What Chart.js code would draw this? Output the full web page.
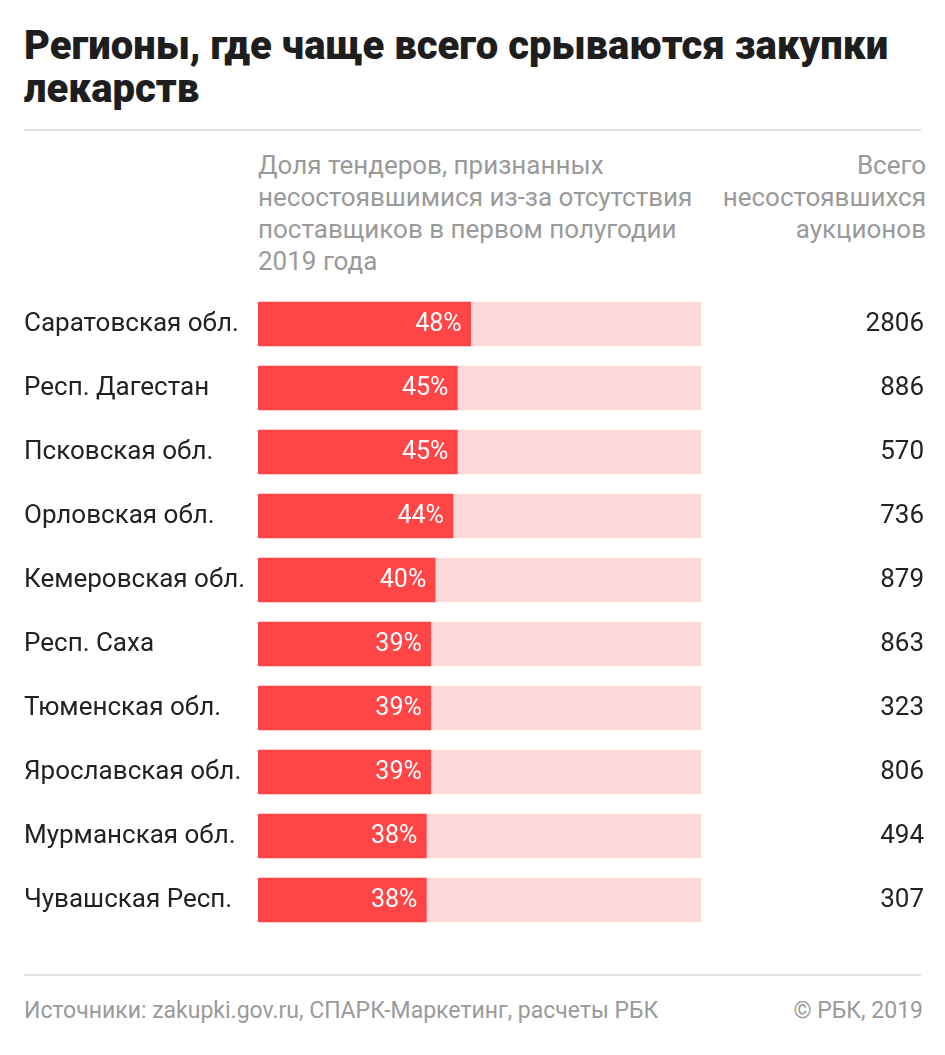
<!DOCTYPE html>
<html lang="ru">
<head>
<meta charset="utf-8">
<script src="https://cdn.jsdelivr.net/npm/chart.js@4/dist/chart.umd.min.js"></script>
<style>
  html, body { margin: 0; padding: 0; background: #fff; }
  body { width: 945px; height: 1055px; position: relative; font-family: Roboto, sans-serif; overflow: hidden; }
  .title { position: absolute; left: 24px; top: 24px; font-size: 40px; line-height: 43px; font-weight: 900; color: #1e1e1e; letter-spacing: 0; }
  .rule { position: absolute; left: 24px; width: 897px; height: 2px; background: #e2e2e2; }
  .head { position: absolute; top: 149px; font-size: 26px; line-height: 32px; color: #9a9a9a; }
  .foot { position: absolute; top: 997px; font-size: 23px; color: #9a9a9a; }
  .wrap { position: absolute; left: 0; top: 279px; width: 945px; height: 666px; }
</style>
</head>
<body>
<div class="title">Регионы, где чаще всего срываются закупки<br>лекарств</div>
<div class="rule" style="top:129px"></div>
<div class="head" style="left:258px">Доля тендеров, признанных<br>несостоявшимися из-за отсутствия<br>поставщиков в первом полугодии<br>2019 года</div>
<div class="head" style="right:19px;text-align:right">Всего<br>несостоявшихся<br>аукционов</div>
<div class="wrap"><canvas id="chart"></canvas></div>
<div class="rule" style="top:974px"></div>
<div class="foot" style="left:24px">Источники: zakupki.gov.ru, СПАРК-Маркетинг, расчеты РБК</div>
<div class="foot" style="right:22px">© РБК, 2019</div>
<script>
const regions = ["Саратовская обл.", "Респ. Дагестан", "Псковская обл.", "Орловская обл.", "Кемеровская обл.", "Респ. Саха", "Тюменская обл.", "Ярославская обл.", "Мурманская обл.", "Чувашская Респ."];
const shares = [48, 45, 45, 44, 40, 39, 39, 39, 38, 38];
const totals = ["2806", "886", "570", "736", "879", "863", "323", "806", "494", "307"];
const track = [100, 100, 100, 100, 100, 100, 100, 100, 100, 100];

const fontSans = "Roboto, sans-serif";
const red = '#ff4545', pink = '#fdd9d9', ink = '#222';

// white "48%" labels inside the red bars, right-aligned to the bar end
const pctLabels = {
  id: 'pctLabels',
  afterDatasetsDraw(chart) {
    const ctx = chart.ctx;
    const meta = chart.getDatasetMeta(1);
    ctx.save();
    ctx.font = '25px ' + fontSans;
    ctx.fillStyle = '#fff';
    ctx.textAlign = 'right';
    ctx.textBaseline = 'middle';
    meta.data.forEach((bar, i) => {
      ctx.fillText(shares[i] + '%', bar.x - 9, bar.y + 1);
    });
    ctx.restore();
  }
};

new Chart(document.getElementById('chart'), {
  type: 'bar',
  data: {
    labels: regions,
    datasets: [
      { data: track, backgroundColor: pink, barThickness: 44, grouped: false, order: 2 },
      { data: shares, backgroundColor: red, barThickness: 44, grouped: false, order: 1 }
    ]
  },
  options: {
    indexAxis: 'y',
    responsive: true, maintainAspectRatio: false, animation: false,
    layout: { padding: { left: 24, right: 21, top: 0, bottom: 0 } },
    plugins: { legend: { display: false }, tooltip: { enabled: false } },
    scales: {
      x: { display: false, min: 0, max: 100 },
      y: {
        position: 'left',
        grid: { display: false }, border: { display: false },
        ticks: { crossAlign: 'far', color: ink, font: { family: fontSans, size: 26, lineHeight: 1 }, padding: 0 },
        afterFit(axis) { axis.width = 234; }
      },
      y2: {
        type: 'category', labels: totals, position: 'right',
        grid: { display: false }, border: { display: false },
        ticks: { crossAlign: 'far', color: ink, font: { family: fontSans, size: 26, lineHeight: 1 }, padding: 0 },
        afterFit(axis) { axis.width = 223; }
      }
    }
  },
  plugins: [pctLabels]
});
</script>
</body>
</html>
